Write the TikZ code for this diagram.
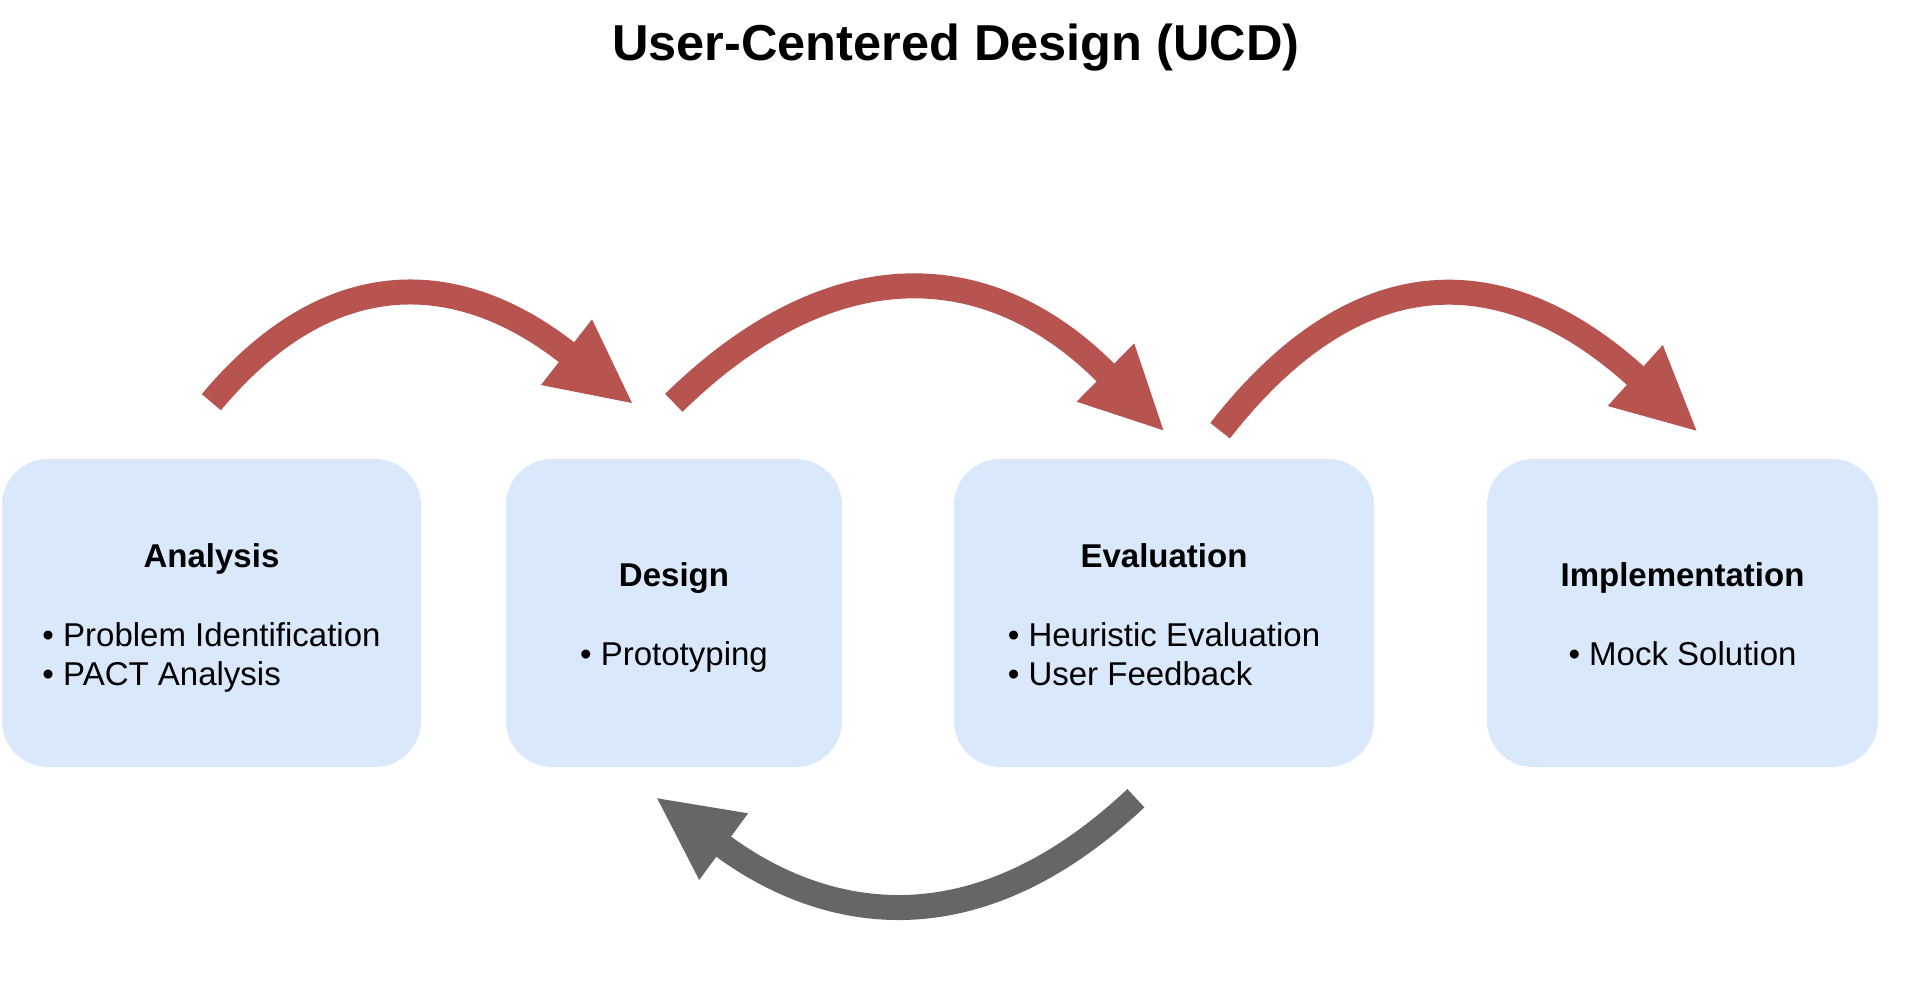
\documentclass[tikz,border=0pt]{standalone}
\usepackage{fontspec}
\setmainfont{Liberation Sans}
\usetikzlibrary{calc}
\definecolor{boxfill}{HTML}{DAE8FC}
\definecolor{redarrow}{HTML}{B85450}
\definecolor{grayarrow}{HTML}{666666}
\begin{document}
\begin{tikzpicture}[x=1pt,y=-1pt,
  stagebox/.style={fill=boxfill, draw=none, rounded corners=46pt, inner sep=0pt,
    align=center, font=\fontsize{33}{39}\selectfont, minimum height=308pt},
  shaft/.style={line width=25pt},
]
\useasboundingbox (0,0) rectangle (1920,982);

% title
\node[font=\fontsize{50.5}{60}\selectfont\bfseries, anchor=base, inner sep=0pt] (title) at (956,60.5) {User-Centered Design (UCD)};

% stages
\node[stagebox, minimum width=419pt] (A) at (211.5,613)
  {\rule{0pt}{38pt}\textbf{Analysis}\\[40pt]\begin{tabular}[t]{@{}l@{}}• Problem Identification\\• PACT Analysis\end{tabular}};
\node[stagebox, minimum width=336pt] (D) at (674,613)
  {\rule{0pt}{38pt}\textbf{Design}\\[40pt]\begin{tabular}[t]{@{}l@{}}• Prototyping\end{tabular}};
\node[stagebox, minimum width=420pt] (E) at (1164,613)
  {\rule{0pt}{38pt}\textbf{Evaluation}\\[40pt]\begin{tabular}[t]{@{}l@{}}• Heuristic Evaluation\\• User Feedback\end{tabular}};
\node[stagebox, minimum width=391pt] (I) at (1682.5,613)
  {\rule{0pt}{38pt}\textbf{Implementation}\\[40pt]\begin{tabular}[t]{@{}l@{}}• Mock Solution\end{tabular}};

% arrow 1: Analysis -> Design
\coordinate (a1s) at (211.3,402.2);
\coordinate (a1e) at (566.5,352.2);
\coordinate (a1t) at (632,403);
\coordinate (a1l) at (592,319.3);
\coordinate (a1r) at (541,385);
\draw[shaft, redarrow] (a1s) .. controls (324.9,266.3) and (452.7,263.9) .. (a1e) -- ($(a1e)!8pt!(a1t)$);
\fill[redarrow] (a1t) -- (a1l) -- (a1r) -- cycle;

% arrow 2: Design -> Evaluation
\coordinate (a2s) at (673.8,402.8);
\coordinate (a2e) at (1105.4,372.5);
\coordinate (a2t) at (1163.4,430.3);
\coordinate (a2l) at (1134.2,343.3);
\coordinate (a2r) at (1076.6,401.7);
\draw[shaft, redarrow] (a2s) .. controls (831.7,248.4) and (988.4,255.9) .. (a2e) -- ($(a2e)!8pt!(a2t)$);
\fill[redarrow] (a2t) -- (a2l) -- (a2r) -- cycle;

% arrow 3: Evaluation -> Implementation
\coordinate (a3s) at (1220.1,430.7);
\coordinate (a3e) at (1635.2,375.5);
\coordinate (a3t) at (1696.5,430.7);
\coordinate (a3l) at (1662.8,345);
\coordinate (a3r) at (1607.7,406);
\draw[shaft, redarrow] (a3s) .. controls (1366.7,242.8) and (1516.2,268.4) .. (a3e) -- ($(a3e)!8pt!(a3t)$);
\fill[redarrow] (a3t) -- (a3l) -- (a3r) -- cycle;

% arrow 4: Evaluation -> Design (feedback)
\coordinate (a4s) at (1135.9,798.2);
\coordinate (a4e) at (723.7,846.7);
\coordinate (a4t) at (657.2,798.3);
\coordinate (a4l) at (748.1,813.3);
\coordinate (a4r) at (699.2,880);
\draw[shaft, grayarrow] (a4s) .. controls (967.6,956.4) and (817.9,915.3) .. (a4e) -- ($(a4e)!8pt!(a4t)$);
\fill[grayarrow] (a4t) -- (a4l) -- (a4r) -- cycle;
\end{tikzpicture}
\end{document}
